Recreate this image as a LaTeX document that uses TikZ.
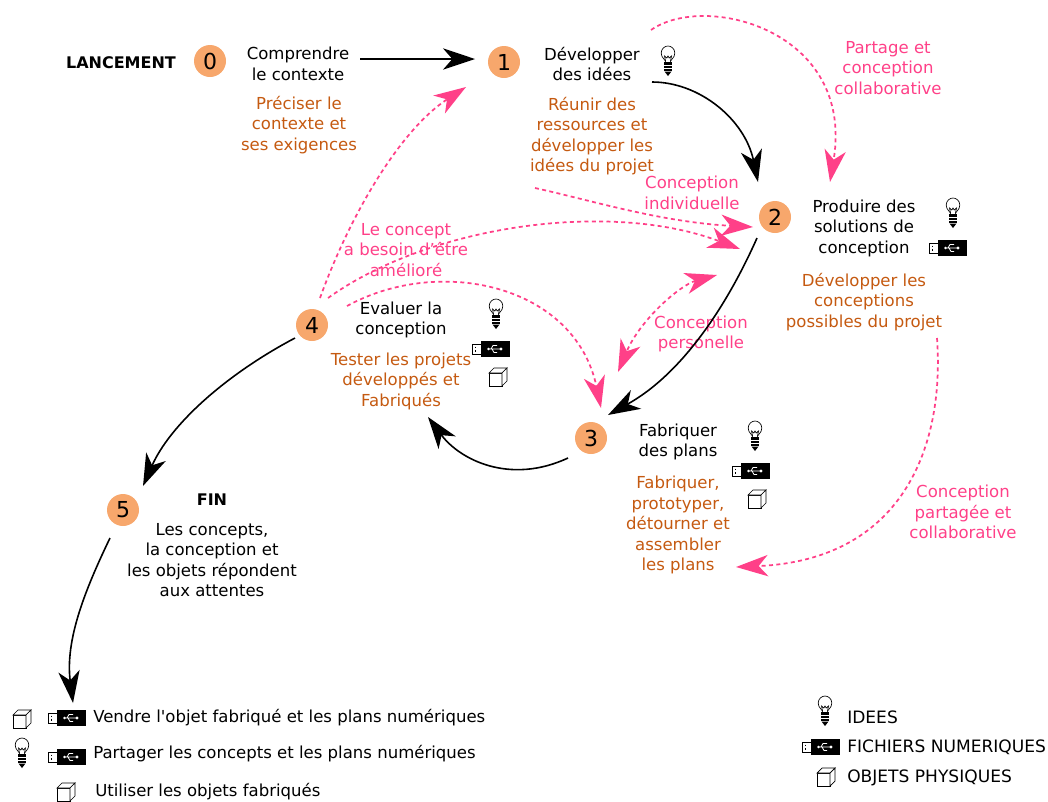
\documentclass[tikz,border=0pt]{standalone}
\usepackage{fontspec}
\setmainfont{DejaVu Sans}
\usetikzlibrary{arrows.meta, positioning}
\definecolor{stepfill}{HTML}{F7A76C}
\definecolor{pinkarrow}{HTML}{FF4088}
\definecolor{orangetext}{HTML}{C55A11}
\tikzset{
    pics/bulb/.style={code={
        \draw[line width=0.5pt, fill=white] (-2.2,1) .. controls (-2.2,-3) and (-6.8,-3.5) .. (-6.8,-9)
            .. controls (-6.8,-13.5) and (-3,-16) .. (0,-16) .. controls (3,-16) and (6.8,-13.5) .. (6.8,-9)
            .. controls (6.8,-3.5) and (2.2,-3) .. (2.2,1) -- cycle;
        \draw[line width=0.5pt] (-2.5,-1) -- (-3.5,-6) -- (-1.2,-4) -- (0,-6) -- (1.2,-4) -- (3.5,-6) -- (2.5,-1);
        \fill (-4,0) rectangle (4,2.5);
        \fill (-4,3.5) rectangle (4,5.5);
        \fill (-4,6.5) rectangle (4,8.5);
        \fill (-3.5,9.5) -- (3.5,9.5) -- (0,14) -- cycle;
    }},
    pics/usb/.style={code={
        \draw[line width=0.5pt, fill=white] (-18,-5) rectangle (-9,5);
        \draw[line width=0.7pt] (-15,-2.5) -- (-15,-0.8) (-15,0.8) -- (-15,2.5);
        \fill (-9,-8) rectangle (20,8);
        \draw[white, line width=0.6pt] (-1,0) -- (11,0) (1,0) -- (3,-3.5) -- (7,-3.5) (2,0) -- (4,3.5) -- (7,3.5);
        \fill[white] (-1.5,0) circle (1.3) (11,0) circle (1.6);
    }},
    pics/cube/.style={code={
        \draw[line width=0.5pt, fill=white] (-9,-4) rectangle (4,9);
        \draw[line width=0.5pt, fill=white] (-9,-4) -- (-4,-9) -- (9,-9) -- (4,-4) -- cycle;
        \draw[line width=0.5pt, fill=white] (4,-4) -- (9,-9) -- (9,4) -- (4,9) -- cycle;
    }}
}
\begin{document}
\begin{tikzpicture}[x=0.75pt, y=-0.75pt,
        stepnum/.style={circle, fill=stepfill, minimum size=24pt, inner sep=0pt, font=\fontsize{16.5}{16.5}\selectfont},
        blacktext/.style={align=center, inner sep=0pt, font=\fontsize{12.4}{15.4}\selectfont},
        legendtext/.style={anchor=west, inner sep=0pt, font=\fontsize{12.8}{15.4}\selectfont},
        orangelabel/.style={blacktext, text=orangetext},
        pinklabel/.style={blacktext, text=pinkarrow},
        mainarrow/.style={-{Stealth[length=24pt, width=16pt, inset=7pt]}, line width=1.2pt},
        pinkdash/.style={-{Stealth[length=24pt, width=16pt, inset=7pt]}, pinkarrow, line width=1.3pt, dash pattern=on 3pt off 2.5pt},
        pinkboth/.style={pinkdash, {Stealth[length=24pt, width=16pt, inset=7pt]}-{Stealth[length=24pt, width=16pt, inset=7pt]}},
    ]
        \useasboundingbox (0,0) rectangle (1048,801);
        % steps
        \node[stepnum] (n0) at (210,61) {0};
        \node[stepnum] (n1) at (504,62) {1};
        \node[stepnum] (n2) at (775,217) {2};
        \node[stepnum] (n3) at (591,438) {3};
        \node[stepnum] (n4) at (312,325) {4};
        \node[stepnum] (n5) at (123,510) {5};
        % black texts
        \node[blacktext, font=\fontsize{12}{15.4}\selectfont\bfseries] (lancement) at (121,63) {LANCEMENT};
        \node[blacktext] (t0) at (298,64) {Comprendre\\le contexte};
        \node[blacktext] (t1) at (592,64) {Développer\\des idées};
        \node[blacktext] (t2) at (864,228) {Produire des\\solutions de\\conception};
        \node[blacktext] (t3) at (678,442) {Fabriquer\\des plans};
        \node[blacktext] (t4) at (401,320) {Evaluer la\\conception};
        \node[blacktext, font=\fontsize{12}{15.4}\selectfont\bfseries] (fin) at (212,500) {FIN};
        \node[blacktext] (t5) at (212,560) {Les concepts,\\la conception et\\les objets répondent\\aux attentes};
        % orange texts
        \node[orangelabel] (o0) at (299,125) {Préciser le\\contexte et\\ses exigences};
        \node[orangelabel] (o1) at (592,136) {Réunir des\\ressources et\\développer les\\idées du projet};
        \node[orangelabel] (o2) at (864,302) {Développer les\\conceptions\\possibles du projet};
        \node[orangelabel] (o3) at (678,525) {Fabriquer,\\prototyper,\\détourner et\\assembler\\les plans};
        \node[orangelabel] (o4) at (401,381) {Tester les projets\\développés et\\Fabriqués};
        % pink texts
        \node[pinklabel] (p0) at (888,68) {Partage et\\conception\\collaborative};
        \node[pinklabel] (p1) at (692,193) {Conception\\individuelle};
        \node[pinklabel] (p2) at (406,250) {Le concept\\a besoin d'être\\amélioré};
        \node[pinklabel] (p3) at (701,334) {Conception\\personelle};
        \node[pinklabel] (p4) at (963,512) {Conception\\partagée et\\collaborative};
        % free ends
        \coordinate (a0) at (360,59);
        \coordinate (a1) at (475,59);
        \coordinate (b0) at (652,82);
        \coordinate (b1) at (758,182);
        \coordinate (c0) at (757,238);
        \coordinate (c1) at (608,415);
        \coordinate (d0) at (568,458);
        \coordinate (d1) at (428,417);
        \coordinate (e0) at (295,338);
        \coordinate (e1) at (143,486);
        \coordinate (f0) at (110,538);
        \coordinate (f1) at (73,703);
        \coordinate (g0) at (320,298);
        \coordinate (g1) at (466,87);
        \coordinate (h0) at (328,298);
        \coordinate (h1) at (740,249);
        \coordinate (i0) at (347,306);
        \coordinate (i1) at (601,408);
        \coordinate (j0) at (535,188);
        \coordinate (j1) at (753,227);
        \coordinate (k0) at (717,275);
        \coordinate (k1) at (618,372);
        \coordinate (l0) at (651,30);
        \coordinate (l1) at (830,182);
        \coordinate (m0) at (937,338);
        \coordinate (m1) at (736,567);
        % black arrows
        \draw[mainarrow] (a0) -- (a1);
        \draw[mainarrow] (b0) .. controls (700,82) and (745,120) .. (b1);
        \draw[mainarrow] (c0) .. controls (725,310) and (680,375) .. (c1);
        \draw[mainarrow] (d0) .. controls (510,485) and (460,460) .. (d1);
        \draw[mainarrow] (e0) .. controls (225,375) and (170,425) .. (e1);
        \draw[mainarrow] (f0) .. controls (85,590) and (65,640) .. (f1);
        % pink arrows
        \draw[pinkdash] (g0) .. controls (350,215) and (400,130) .. (g1);
        \draw[pinkdash] (h0) .. controls (430,225) and (610,200) .. (h1);
        \draw[pinkdash] (i0) .. controls (440,255) and (575,285) .. (i1);
        \draw[pinkdash] (j0) .. controls (590,200) and (660,222) .. (j1);
        \draw[pinkboth] (k0) .. controls (680,285) and (640,320) .. (k1);
        \draw[pinkdash] (l0) .. controls (705,-8) and (855,30) .. (l1);
        \draw[pinkdash] (m0) .. controls (945,450) and (900,560) .. (m1);
        % icons near the steps
        \pic at (668,62) {bulb};
        \pic at (953,214) {bulb};
        \pic at (947,248) {usb};
        \pic at (496,315) {bulb};
        \pic at (490,349) {usb};
        \pic at (498,377) {cube};
        \pic at (755,437) {bulb};
        \pic at (750,471) {usb};
        \pic at (757,499) {cube};
        % bottom left
        \pic at (22,719) {cube};
        \pic at (66,718) {usb};
        \pic at (22,754) {bulb};
        \pic at (66,757) {usb};
        \pic at (66,792) {cube};
        \node[blacktext, anchor=west] (v0) at (93,718) {Vendre l\textquotesingle objet fabriqué et les plans numériques};
        \node[blacktext, anchor=west] (v1) at (93,754) {Partager les concepts et les plans numériques};
        \node[blacktext, anchor=west] (v2) at (95,792) {Utiliser les objets fabriqués};
        % legend
        \pic at (825,712) {bulb};
        \pic at (820,747) {usb};
        \pic at (826,777) {cube};
        \node[legendtext] (l0t) at (847,717) {IDEES};
        \node[legendtext] (l1t) at (847,747) {FICHIERS NUMERIQUES};
        \node[legendtext] (l2t) at (847,778) {OBJETS PHYSIQUES};
\end{tikzpicture}
\end{document}
